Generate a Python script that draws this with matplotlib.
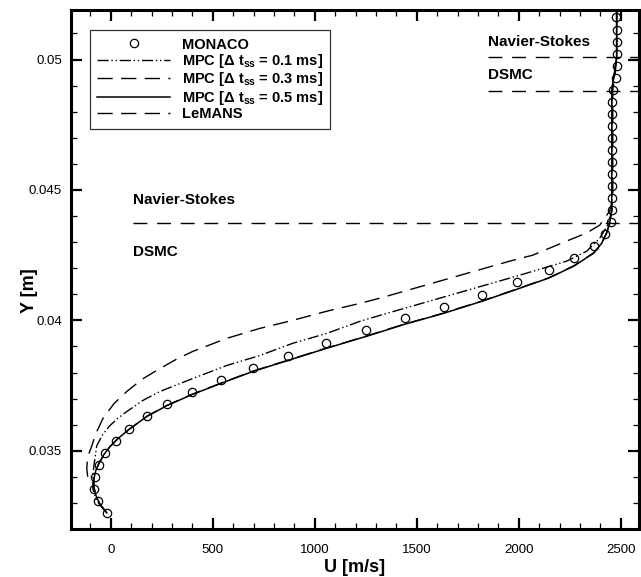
import matplotlib
matplotlib.use('Agg')
import matplotlib.pyplot as plt
from matplotlib.ticker import MultipleLocator

plt.rcParams['font.family'] = ['Liberation Sans', 'DejaVu Sans']
plt.rcParams['mathtext.fontset'] = 'custom'
plt.rcParams['mathtext.rm'] = 'Liberation Sans:bold'
plt.rcParams['mathtext.bf'] = 'Liberation Sans:bold'
plt.rcParams['mathtext.default'] = 'bf'

# MONACO (DSMC) points
monaco_u = [-20, -64, -83, -78, -59, -29, 25, 88, 176, 275, 397, 539, 696, 868,
            1054, 1250, 1441, 1632, 1819, 1990, 2147, 2270, 2368, 2422, 2451, 2456,
            2456, 2456, 2456, 2456, 2456, 2456, 2456, 2456, 2456, 2461, 2475, 2480,
            2480, 2480, 2480, 2475]
monaco_y = [0.03262, 0.03308, 0.03354, 0.03400, 0.03446, 0.03492, 0.03538, 0.03585,
            0.03635, 0.03681, 0.03727, 0.03773, 0.03819, 0.03865, 0.03912, 0.03962,
            0.04008, 0.04050, 0.04096, 0.04146, 0.04192, 0.04238, 0.04285, 0.04331,
            0.04377, 0.04423, 0.04469, 0.04515, 0.04562, 0.04608, 0.04654, 0.04700,
            0.04746, 0.04792, 0.04838, 0.04885, 0.04931, 0.04977, 0.05023, 0.05069,
            0.05115, 0.05162]

# MPC, dt_ss = 0.1 ms
mpc1_u = [-29, -69, -88, -88, -83, -69, -40, -5, 35, 78, 155, 240, 402, 569, 730, 892,
          1059, 1221, 1319, 1956, 2069, 2235, 2333, 2397, 2436, 2456, 2456, 2466, 2480,
          2480]
mpc1_y = [0.03269, 0.03308, 0.03354, 0.03400, 0.03442, 0.03519, 0.03562, 0.03596,
          0.03625, 0.03650, 0.03692, 0.03727, 0.03777, 0.03827, 0.03865, 0.03912,
          0.03950, 0.03996, 0.04019, 0.04162, 0.04188, 0.04227, 0.04265, 0.04315,
          0.04365, 0.04419, 0.04885, 0.04931, 0.05008, 0.0520]

# MPC, dt_ss = 0.3 ms
mpc3_u = [-20, -54, -74, -83, -83, -74, -59, -34, -5, 34, 88, 176, 275, 397, 539,
          696, 868, 1054, 1250, 1441, 1632, 1819, 1990, 2147, 2270, 2368, 2407, 2431,
          2446, 2456, 2456, 2466, 2480, 2480]
mpc3_y = [0.03262, 0.03296, 0.03331, 0.03362, 0.03392, 0.03423, 0.03450, 0.03485,
          0.03515, 0.03546, 0.03581, 0.03632, 0.03674, 0.03716, 0.03759, 0.03805,
          0.03847, 0.03893, 0.03939, 0.03986, 0.04028, 0.04074, 0.04120, 0.04163,
          0.04209, 0.04259, 0.04297, 0.04336, 0.04373, 0.04423, 0.04885, 0.04931,
          0.05008, 0.0520]

# MPC, dt_ss = 0.5 ms
mpc5_u = [-20, -54, -74, -83, -83, -74, -59, -34, -5, 34, 88, 176, 275, 397, 539,
          696, 868, 1054, 1250, 1441, 1632, 1819, 1990, 2147, 2270, 2368, 2407, 2431,
          2446, 2456, 2456, 2466, 2480, 2480]
mpc5_y = [0.03262, 0.03296, 0.03331, 0.03362, 0.03392, 0.03423, 0.03450, 0.03485,
          0.03515, 0.03546, 0.03581, 0.03631, 0.03673, 0.03715, 0.03758, 0.03804,
          0.03846, 0.03892, 0.03938, 0.03985, 0.04027, 0.04073, 0.04119, 0.04162,
          0.04208, 0.04258, 0.04296, 0.04335, 0.04373, 0.04423, 0.04885, 0.04931,
          0.05008, 0.0520]

# LeMANS (Navier-Stokes)
lemans_u = [-113, -118, -113, -93, -74, -39, 15, 78, 155, 240, 320, 402, 569, 730,
            892, 1059, 1221, 1319, 1956, 2069, 2235, 2333, 2397, 2446, 2461, 2461, 2471,
            2480, 2480]
lemans_y = [0.03400, 0.03431, 0.03477, 0.03519, 0.03565, 0.03623, 0.03680, 0.03727,
            0.03775, 0.03815, 0.03850, 0.03881, 0.03931, 0.03969, 0.04000, 0.04035,
            0.04065, 0.04085, 0.04227, 0.04250, 0.04304, 0.04335, 0.04365, 0.04419,
            0.04469, 0.04885, 0.04931, 0.05008, 0.0520]

# interface lines between Navier-Stokes and DSMC regions
iface_lower_y = 0.04373
iface_lower_x0 = 108
iface_upper_y = [0.05008, 0.04881]
iface_upper_x0 = 1848

fig = plt.figure(figsize=(6.41, 5.77), dpi=100)
ax = fig.add_axes([0.1108, 0.0832, 0.8862, 0.8995])

ax.plot(monaco_u, monaco_y, 'o', mfc='none', mec='black', mew=0.9, ms=6,
        label='MONACO', zorder=5)
ax.plot(mpc1_u, mpc1_y, color='black', lw=1.0, dashes=(8, 2, 1, 2, 1, 2),
        label='MPC [\u0394 t$_{ss}$ = 0.1 ms]')
ax.plot(mpc3_u, mpc3_y, color='black', lw=1.0, dashes=(11, 6),
        label='MPC [\u0394 t$_{ss}$ = 0.3 ms]')
ax.plot(mpc5_u, mpc5_y, color='black', lw=1.1, label='MPC [\u0394 t$_{ss}$ = 0.5 ms]')
ax.plot(lemans_u, lemans_y, color='black', lw=1.0, dashes=(11, 6), label='LeMANS')

ax.plot([iface_lower_x0, 2590], [iface_lower_y, iface_lower_y], color='black',
        lw=1.0, dashes=(10, 7))
for yy in iface_upper_y:
    ax.plot([iface_upper_x0, 2590], [yy, yy], color='black', lw=1.0, dashes=(10, 7))

ax.text(iface_upper_x0, 0.05069, 'Navier-Stokes', fontsize=11, fontweight='bold', va='center')
ax.text(iface_upper_x0, 0.04942, 'DSMC', fontsize=11, fontweight='bold', va='center')
ax.text(iface_lower_x0, 0.04462, 'Navier-Stokes', fontsize=11, fontweight='bold', va='center')
ax.text(iface_lower_x0, 0.04262, 'DSMC', fontsize=11, fontweight='bold', va='center')

ax.set_xlim(-195, 2590)
ax.set_ylim(0.032, 0.0519)
ax.xaxis.set_major_locator(MultipleLocator(500))
ax.xaxis.set_minor_locator(MultipleLocator(100))
ax.yaxis.set_major_locator(MultipleLocator(0.005))
ax.yaxis.set_minor_locator(MultipleLocator(0.001))
ax.set_yticks([0.035, 0.04, 0.045, 0.05])
ax.set_yticklabels(['0.035', '0.04', '0.045', '0.05'])

ax.tick_params(which='both', direction='in', top=True, right=True, labelsize=9.5)
ax.tick_params(which='major', length=8, width=1.6)
ax.tick_params(which='minor', length=4.5, width=0.9)
ax.tick_params(axis='x', which='major', pad=11)
ax.tick_params(axis='y', which='major', pad=6.5)
for s in ax.spines.values():
    s.set_linewidth(2.2)

ax.set_xlabel('U [m/s]', fontsize=13, fontweight='bold', labelpad=2)
ax.set_ylabel('Y [m]', fontsize=13, fontweight='bold')
ax.yaxis.set_label_coords(-0.058, 0.46)

leg = ax.legend(loc='upper left', bbox_to_anchor=(0.0335, 0.961), borderaxespad=0,
                prop={'weight': 'bold', 'size': 10.5}, handlelength=5.0,
                labelspacing=0.03, borderpad=0.5, handletextpad=0.8, fancybox=False,
                frameon=True, edgecolor='black', numpoints=1)
leg.get_frame().set_linewidth(0.9)

fig.savefig('out.png', dpi=100)
